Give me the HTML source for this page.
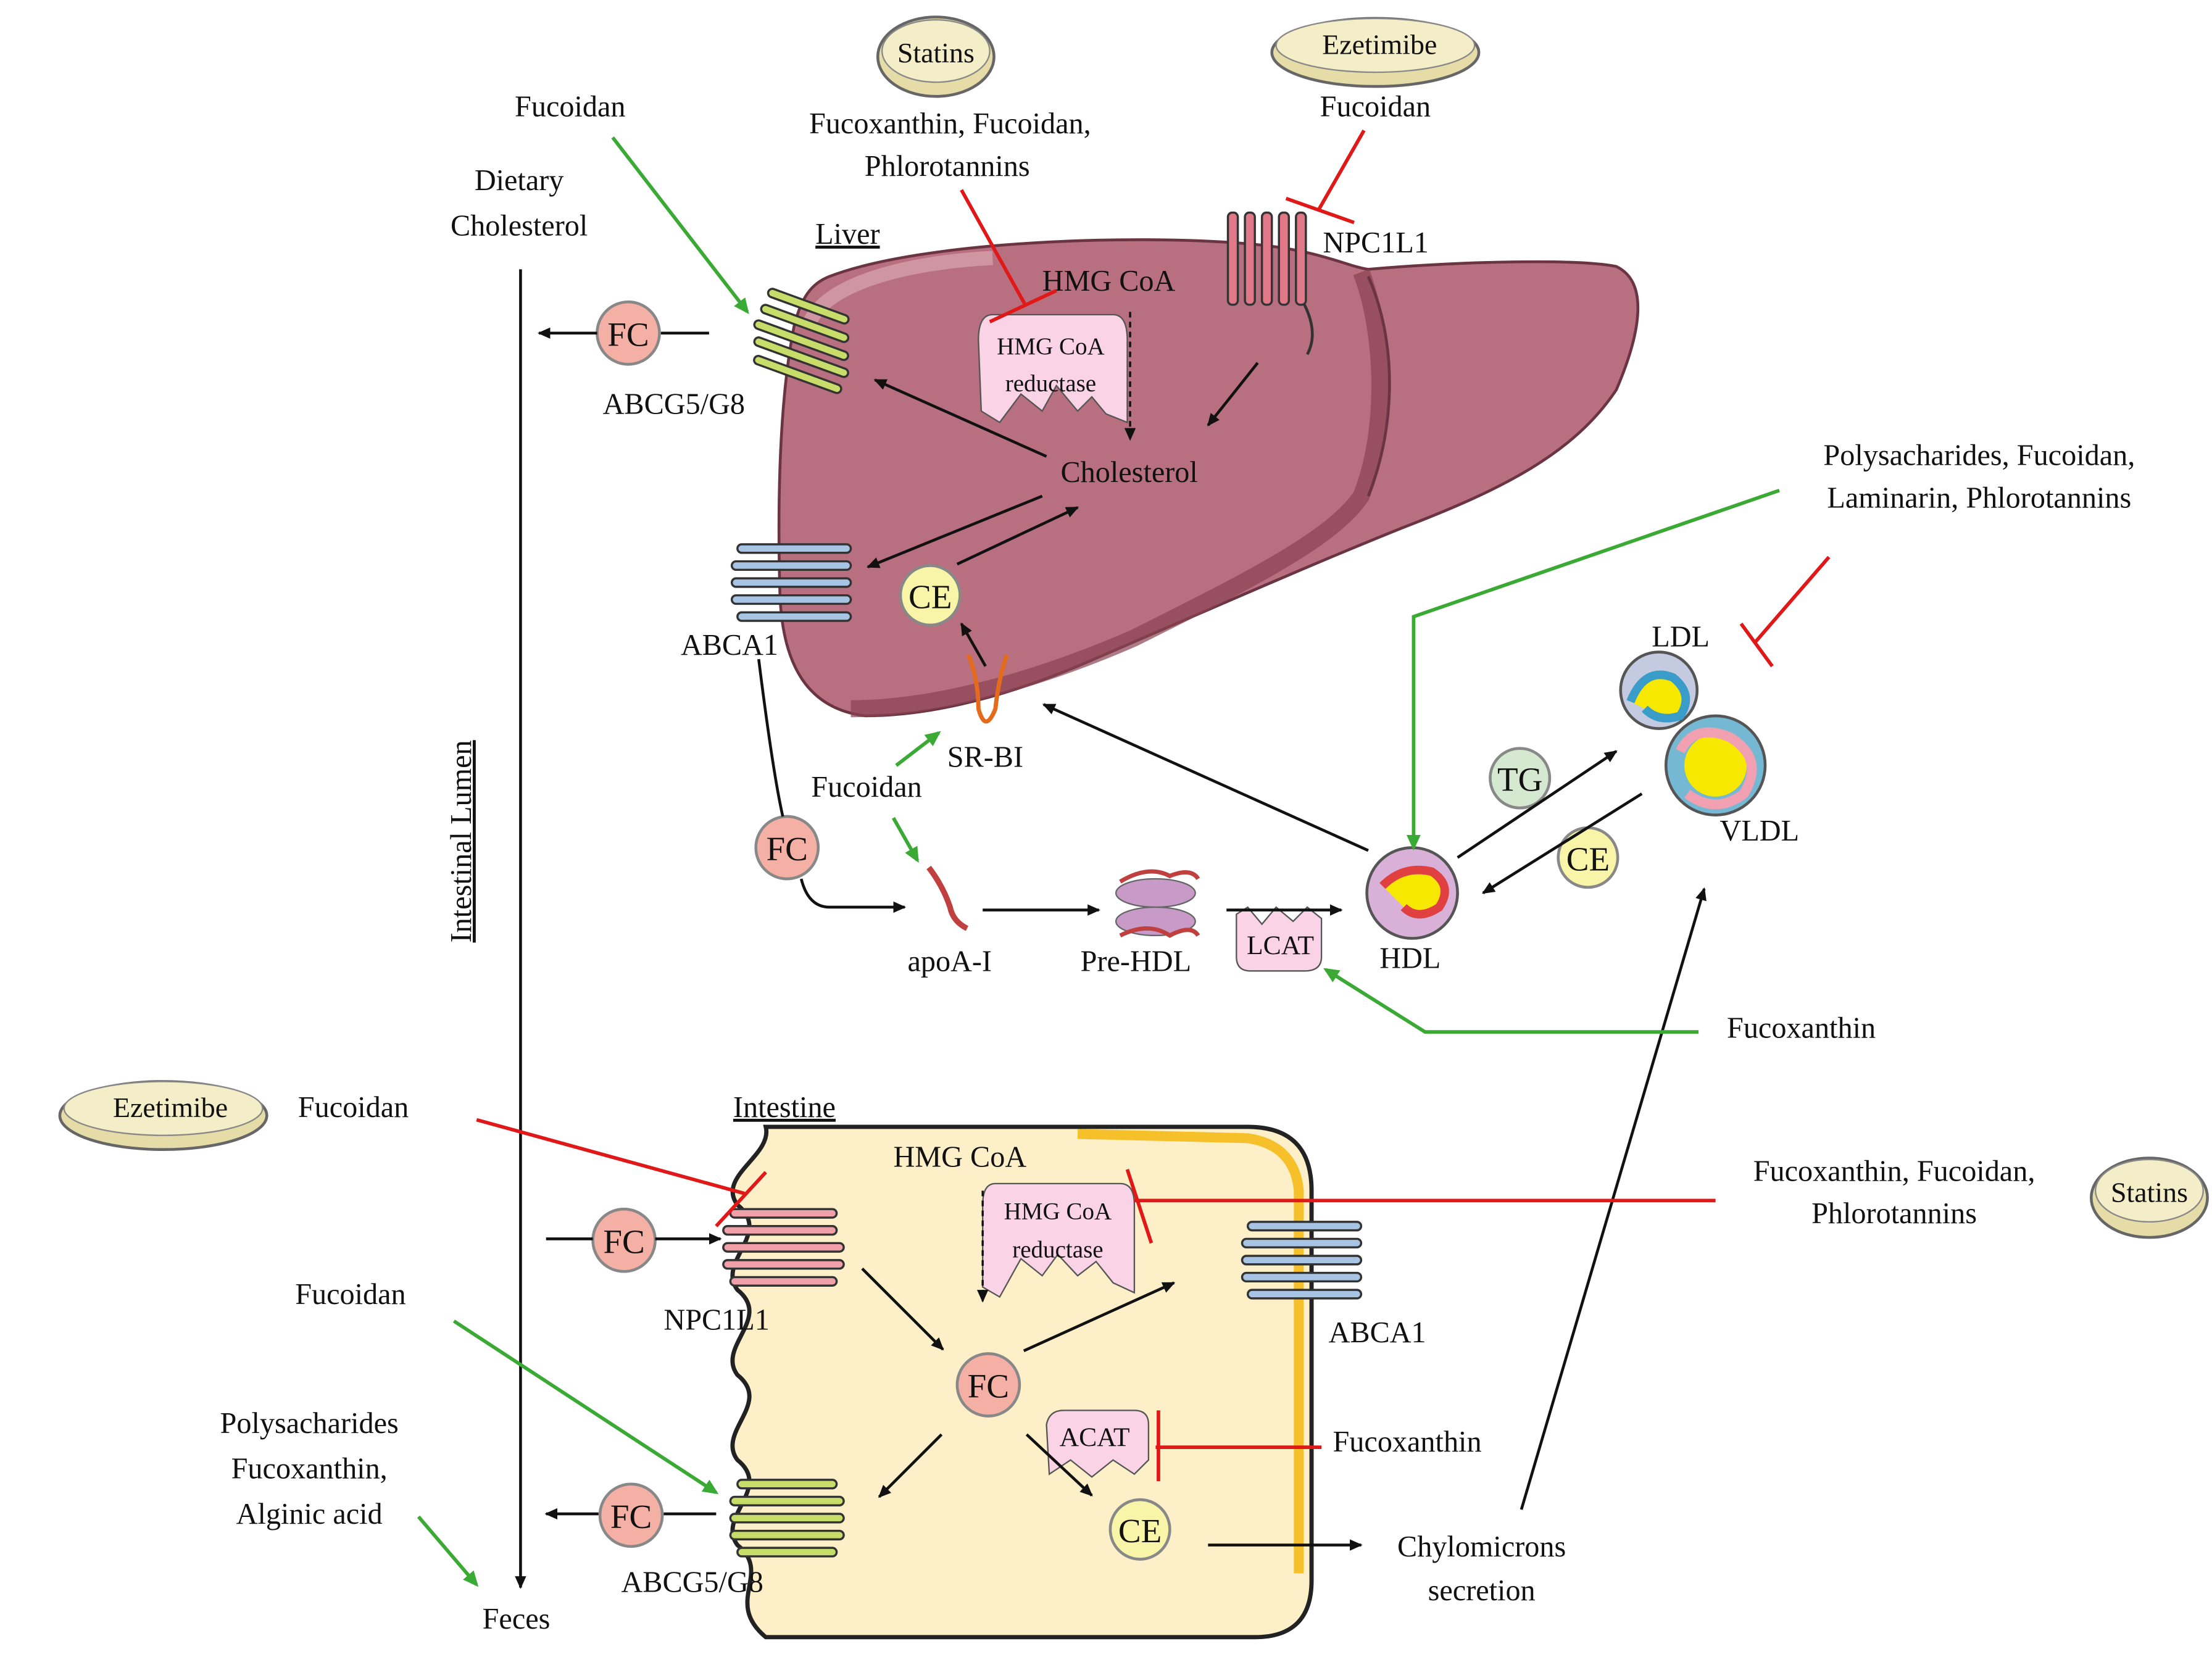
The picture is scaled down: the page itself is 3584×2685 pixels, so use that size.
<!DOCTYPE html>
<html><head><meta charset="utf-8"><style>
html,body{margin:0;padding:0;background:#fff;}
svg{display:block;}
text{font-family:"Liberation Serif",serif;fill:#111;}
</style></head><body>
<svg width="3584" height="2685" viewBox="0 0 1560 1169" xmlns="http://www.w3.org/2000/svg">
<defs>
<marker id="ab" markerWidth="10" markerHeight="10" refX="8" refY="5" orient="auto" markerUnits="userSpaceOnUse"><path d="M0,1 L9,5 L0,9 z" fill="#111"/></marker>
<marker id="ag" markerWidth="12" markerHeight="12" refX="9" refY="6" orient="auto" markerUnits="userSpaceOnUse"><path d="M0,1 L11,6 L0,11 z" fill="#3aaa35"/></marker>
</defs>
<!-- Liver -->
<path d="M585,195 C650,170 800,165 880,172 C930,176 950,188 965,190 C1020,185 1110,182 1140,188 C1165,200 1155,240 1140,275 C1110,320 1060,345 990,372 C920,400 830,440 760,470 C700,495 650,505 610,505 C570,500 552,470 550,420 C548,350 550,280 560,230 C565,210 572,200 585,195 Z" fill="#b87080" stroke="#6b3442" stroke-width="2"/>
<path d="M960,192 C975,230 980,300 960,350 C940,380 880,410 800,450 C720,485 650,500 600,500" fill="none" stroke="#8a4352" stroke-width="12" opacity="0.7"/>
<path d="M965,195 C985,240 985,300 965,350" fill="none" stroke="#6b3442" stroke-width="2"/>
<path d="M570,230 C580,200 640,185 700,182" fill="none" stroke="#d8a7b0" stroke-width="10" opacity="0.7"/>
<!-- Intestine -->
<path d="M540,795 L880,795 Q925,795 925,840 L925,1115 Q925,1155 885,1155 L540,1155 C510,1130 545,1110 520,1090 C505,1070 545,1050 520,1030 C505,1010 545,990 520,970 C505,950 545,930 520,910 C505,890 545,870 520,850 C505,830 545,815 540,795 Z" fill="#fdf0c8" stroke="#222" stroke-width="3"/>
<path d="M760,800 L880,803 Q913,808 916,840 L916,1110" fill="none" stroke="#f6c02a" stroke-width="7"/>
<!-- Text -->
<g font-size="21">
<text x="402" y="82" text-anchor="middle">Fucoidan</text>
<text x="366" y="134" text-anchor="middle">Dietary</text>
<text x="366" y="166" text-anchor="middle">Cholesterol</text>
<text x="670" y="94" text-anchor="middle">Fucoxanthin, Fucoidan,</text>
<text x="668" y="124" text-anchor="middle">Phlorotannins</text>
<text x="970" y="82" text-anchor="middle">Fucoidan</text>
<text x="575" y="172" text-decoration="underline">Liver</text>
<text x="735" y="205">HMG CoA</text>
<text x="933" y="178">NPC1L1</text>
<text x="425" y="292">ABCG5/G8</text>
<text x="748" y="340">Cholesterol</text>
<text x="480" y="462">ABCA1</text>
<text x="1396" y="328" text-anchor="middle">Polysacharides, Fucoidan,</text>
<text x="1396" y="358" text-anchor="middle">Laminarin, Phlorotannins</text>
<text x="1165" y="456">LDL</text>
<text x="668" y="541">SR-BI</text>
<text x="572" y="562">Fucoidan</text>
<text x="1213" y="593">VLDL</text>
<text x="640" y="685">apoA-I</text>
<text x="762" y="685">Pre-HDL</text>
<text x="973" y="683">HDL</text>
<text x="1218" y="732">Fucoxanthin</text>
<text x="210" y="788">Fucoidan</text>
<text x="517" y="788" text-decoration="underline">Intestine</text>
<text x="630" y="823">HMG CoA</text>
<text x="1336" y="833" text-anchor="middle">Fucoxanthin, Fucoidan,</text>
<text x="1336" y="863" text-anchor="middle">Phlorotannins</text>
<text x="208" y="920">Fucoidan</text>
<text x="468" y="938">NPC1L1</text>
<text x="937" y="947">ABCA1</text>
<text x="218" y="1011" text-anchor="middle">Polysacharides</text>
<text x="218" y="1043" text-anchor="middle">Fucoxanthin,</text>
<text x="218" y="1075" text-anchor="middle">Alginic acid</text>
<text x="940" y="1024">Fucoxanthin</text>
<text x="1045" y="1098" text-anchor="middle">Chylomicrons</text>
<text x="1045" y="1129" text-anchor="middle">secretion</text>
<text x="438" y="1123">ABCG5/G8</text>
<text x="364" y="1149" text-anchor="middle">Feces</text>
<text transform="translate(332,665) rotate(-90)" text-decoration="underline">Intestinal Lumen</text>
</g>
<!-- pills -->
<g>
<ellipse cx="660" cy="40" rx="41" ry="28" fill="#e6dca8" stroke="#666" stroke-width="2"/>
<ellipse cx="660" cy="36" rx="38" ry="22" fill="#f3edc8" stroke="#888"/>
<text x="660" y="44" font-size="20" text-anchor="middle">Statins</text>
<ellipse cx="970" cy="37" rx="73" ry="24" fill="#e6dca8" stroke="#666" stroke-width="2"/>
<ellipse cx="970" cy="32" rx="70" ry="19" fill="#f3edc8" stroke="#888"/>
<text x="973" y="38" font-size="20" text-anchor="middle">Ezetimibe</text>
<ellipse cx="115" cy="787" rx="73" ry="24" fill="#e6dca8" stroke="#666" stroke-width="2"/>
<ellipse cx="115" cy="782" rx="70" ry="19" fill="#f3edc8" stroke="#888"/>
<text x="120" y="788" font-size="20" text-anchor="middle">Ezetimibe</text>
<ellipse cx="1516" cy="845" rx="41" ry="28" fill="#e6dca8" stroke="#666" stroke-width="2"/>
<ellipse cx="1516" cy="840" rx="38" ry="22" fill="#f3edc8" stroke="#888"/>
<text x="1516" y="848" font-size="20" text-anchor="middle">Statins</text>
</g>
<!-- circles -->
<g font-size="24" text-anchor="middle">
<circle cx="443" cy="235" r="22" fill="#f4b0a4" stroke="#888" stroke-width="2"/><text x="443" y="244">FC</text>
<circle cx="656" cy="420" r="21" fill="#f8f5a8" stroke="#888" stroke-width="2"/><text x="656" y="429">CE</text>
<circle cx="555" cy="598" r="22" fill="#f4b0a4" stroke="#888" stroke-width="2"/><text x="555" y="607">FC</text>
<circle cx="1072" cy="549" r="21" fill="#d5e8d0" stroke="#888" stroke-width="2"/><text x="1072" y="558">TG</text>
<circle cx="1120" cy="605" r="21" fill="#f8f5a8" stroke="#888" stroke-width="2"/><text x="1120" y="614">CE</text>
<circle cx="440" cy="875" r="22" fill="#f4b0a4" stroke="#888" stroke-width="2"/><text x="440" y="884">FC</text>
<circle cx="697" cy="977" r="22" fill="#f4b0a4" stroke="#888" stroke-width="2"/><text x="697" y="986">FC</text>
<circle cx="804" cy="1079" r="21" fill="#f8f5a8" stroke="#888" stroke-width="2"/><text x="804" y="1088">CE</text>
<circle cx="445" cy="1069" r="22" fill="#f4b0a4" stroke="#888" stroke-width="2"/><text x="445" y="1078">FC</text>
</g>
<!-- enzymes -->
<path d="M700,222 L785,222 Q795,222 795,240 L795,298 L780,292 L770,280 L760,290 L745,272 L735,290 L720,278 L705,298 L692,290 L690,240 Q690,222 700,222 Z" fill="#fad4e6" stroke="#555"/>
<text x="741" y="250" font-size="17" text-anchor="middle">HMG CoA</text>
<text x="741" y="276" font-size="17" text-anchor="middle">reductase</text>
<path d="M702,835 L790,835 Q800,835 800,850 L800,912 L785,905 L773,890 L760,900 L746,885 L735,900 L720,888 L705,915 L693,908 L693,850 Q693,835 702,835 Z" fill="#fad4e6" stroke="#555"/>
<text x="746" y="860" font-size="17" text-anchor="middle">HMG CoA</text>
<text x="746" y="887" font-size="17" text-anchor="middle">reductase</text>
<path d="M872,645 L880,640 L890,652 L900,640 L912,650 L922,640 L932,648 L932,675 Q932,685 920,685 L882,685 Q872,685 872,675 Z" fill="#fad4e6" stroke="#555"/>
<text x="903" y="673" font-size="19" text-anchor="middle">LCAT</text>
<path d="M738,1005 Q740,995 750,995 L800,995 Q810,995 810,1005 L810,1030 L800,1040 L785,1030 L770,1042 L755,1030 L740,1040 Z" fill="#fad4e6" stroke="#555"/>
<text x="772" y="1020" font-size="19" text-anchor="middle">ACAT</text>
<!-- transporters -->
<g stroke="#333" stroke-width="1.5">
<g fill="#c8dc6a"><rect x="540" y="213" width="60" height="6" rx="3" transform="rotate(20 570 216)"/><rect x="535" y="225" width="65" height="6" rx="3" transform="rotate(20 567 228)"/><rect x="530" y="237" width="70" height="6" rx="3" transform="rotate(20 565 240)"/><rect x="530" y="249" width="70" height="6" rx="3" transform="rotate(20 565 252)"/><rect x="530" y="261" width="65" height="6" rx="3" transform="rotate(20 562 264)"/></g>
<g fill="#a8c4e4"><rect x="520" y="384" width="80" height="6" rx="3"/><rect x="516" y="396" width="84" height="6" rx="3"/><rect x="516" y="408" width="84" height="6" rx="3"/><rect x="516" y="420" width="84" height="6" rx="3"/><rect x="520" y="432" width="80" height="6" rx="3"/></g>
<g fill="#a8c4e4"><rect x="880" y="862" width="80" height="6" rx="3"/><rect x="876" y="874" width="84" height="6" rx="3"/><rect x="876" y="886" width="84" height="6" rx="3"/><rect x="876" y="898" width="84" height="6" rx="3"/><rect x="880" y="910" width="80" height="6" rx="3"/></g>
<g fill="#f0a0a8"><rect x="515" y="853" width="75" height="6" rx="3"/><rect x="510" y="865" width="80" height="6" rx="3"/><rect x="510" y="877" width="85" height="6" rx="3"/><rect x="510" y="889" width="85" height="6" rx="3"/><rect x="515" y="901" width="75" height="6" rx="3"/></g>
<g fill="#c8dc6a"><rect x="520" y="1044" width="70" height="6" rx="3"/><rect x="515" y="1056" width="80" height="6" rx="3"/><rect x="515" y="1068" width="80" height="6" rx="3"/><rect x="515" y="1080" width="80" height="6" rx="3"/><rect x="520" y="1092" width="70" height="6" rx="3"/></g>
<g fill="#e07888"><rect x="866" y="150" width="7" height="65" rx="3"/><rect x="878" y="150" width="7" height="65" rx="3"/><rect x="890" y="150" width="7" height="65" rx="3"/><rect x="902" y="150" width="7" height="65" rx="3"/><rect x="914" y="150" width="7" height="65" rx="3"/></g>
</g>
<path d="M920,215 Q930,235 922,250" fill="none" stroke="#333" stroke-width="2"/>
<!-- SR-BI -->
<path d="M683,462 Q690,480 690,500 Q695,518 702,500 Q704,480 710,462" fill="none" stroke="#e46a1c" stroke-width="3"/>
<!-- lipoproteins -->
<circle cx="996" cy="630" r="32" fill="#d9b0d8" stroke="#555" stroke-width="2"/>
<path d="M975,625 Q990,610 1010,615 Q1025,625 1015,640 Q1000,650 990,640" fill="#f6e800" stroke="#e04040" stroke-width="6"/>
<circle cx="1170" cy="487" r="27" fill="#c4cbe0" stroke="#555" stroke-width="2"/>
<path d="M1150,495 Q1160,470 1180,478 Q1195,490 1185,505 Q1170,510 1160,500" fill="#f6e800" stroke="#3a9cc8" stroke-width="6"/>
<circle cx="1210" cy="540" r="35" fill="#74b8d4" stroke="#555" stroke-width="2"/>
<circle cx="1210" cy="540" r="22" fill="#f6e800"/>
<path d="M1185,530 Q1195,510 1220,520 Q1245,535 1230,560 Q1210,575 1190,560" fill="none" stroke="#f0a0b0" stroke-width="7"/>
<path d="M655,612 Q665,625 670,640 Q672,650 682,655" fill="none" stroke="#c04040" stroke-width="4"/>
<ellipse cx="815" cy="630" rx="28" ry="10" fill="#c89ac8" stroke="#666"/>
<ellipse cx="815" cy="650" rx="28" ry="10" fill="#c89ac8" stroke="#666"/>
<path d="M790,622 Q810,610 825,618 Q840,612 845,620" fill="none" stroke="#c04040" stroke-width="3"/>
<path d="M790,660 Q810,650 825,660 Q840,652 845,660" fill="none" stroke="#c04040" stroke-width="3"/>
<!-- black lines without heads -->
<g stroke="#111" stroke-width="2" fill="none">
<line x1="500" y1="235" x2="466" y2="235"/>
<line x1="385" y1="874" x2="418" y2="874"/>
<line x1="505" y1="1068" x2="468" y2="1068"/>
<path d="M535,465 Q545,545 552,576"/>
</g>
<g stroke="#111" stroke-width="2" fill="none" marker-end="url(#ab)">
<line x1="367" y1="190" x2="367" y2="1120"/>
<line x1="421" y1="235" x2="380" y2="235"/>
<line x1="738" y1="322" x2="617" y2="268"/>
<line x1="887" y1="256" x2="852" y2="300"/>
<line x1="735" y1="350" x2="612" y2="400"/>
<line x1="675" y1="398" x2="760" y2="358"/>
<line x1="695" y1="470" x2="678" y2="440"/>
<line x1="965" y1="600" x2="736" y2="497"/>
<path d="M565,620 Q570,640 585,640 L638,640"/>
<line x1="693" y1="642" x2="775" y2="642"/>
<line x1="865" y1="642" x2="946" y2="642"/>
<line x1="1028" y1="605" x2="1140" y2="530"/>
<line x1="1158" y1="560" x2="1046" y2="630"/>
<line x1="1073" y1="1065" x2="1202" y2="627"/>
<line x1="462" y1="874" x2="508" y2="874"/>
<line x1="422" y1="1068" x2="385" y2="1068"/>
<line x1="608" y1="895" x2="665" y2="952"/>
<line x1="722" y1="953" x2="828" y2="905"/>
<line x1="664" y1="1012" x2="620" y2="1056"/>
<line x1="724" y1="1012" x2="770" y2="1055"/>
<line x1="852" y1="1090" x2="960" y2="1090"/>
</g>
<g stroke="#111" stroke-width="1.5" stroke-dasharray="4,3" fill="none" marker-end="url(#ab)">
<line x1="797" y1="220" x2="797" y2="310"/>
<line x1="693" y1="840" x2="693" y2="918"/>
</g>
<!-- green arrows -->
<g stroke="#3aaa35" stroke-width="2.5" fill="none" marker-end="url(#ag)">
<line x1="432" y1="97" x2="527" y2="220"/>
<polyline points="1255,346 997,435 997,598"/>
<line x1="632" y1="540" x2="662" y2="517"/>
<line x1="630" y1="577" x2="647" y2="607"/>
<polyline points="1198,728 1005,728 935,684"/>
<line x1="320" y1="932" x2="505" y2="1053"/>
<line x1="295" y1="1070" x2="336" y2="1118"/>
</g>
<!-- red inhibitions -->
<g stroke="#e01818" stroke-width="2.5" fill="none">
<line x1="678" y1="134" x2="723" y2="215"/><line x1="698" y1="227" x2="745" y2="205"/>
<line x1="962" y1="92" x2="930" y2="148"/><line x1="907" y1="140" x2="955" y2="157"/>
<line x1="1290" y1="393" x2="1238" y2="453"/><line x1="1228" y1="440" x2="1250" y2="470"/>
<line x1="336" y1="790" x2="525" y2="842"/><line x1="540" y1="827" x2="505" y2="865"/>
<line x1="1210" y1="847" x2="800" y2="847"/><line x1="795" y1="825" x2="812" y2="877"/>
<line x1="932" y1="1021" x2="815" y2="1021"/><line x1="817" y1="995" x2="817" y2="1045"/>
</g>
</svg>
</body></html>
